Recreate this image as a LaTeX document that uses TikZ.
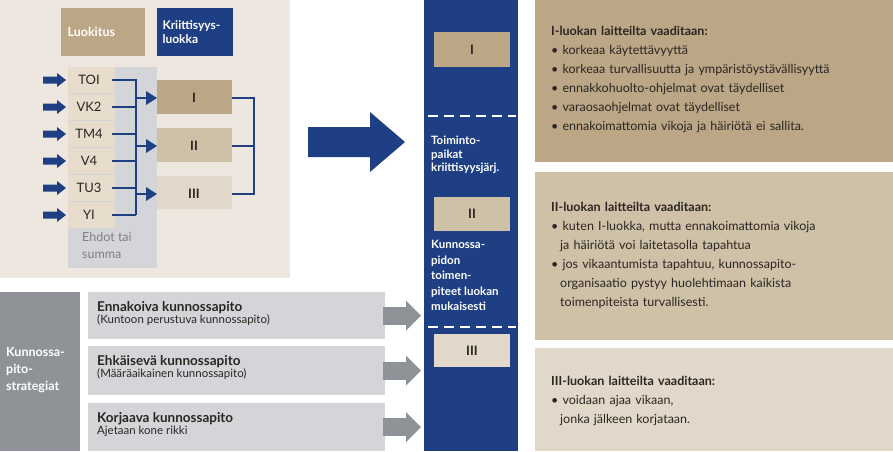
\documentclass[tikz,border=0pt]{standalone}
\usepackage{fontspec}
\setmainfont{Lato}
\usetikzlibrary{calc}
\definecolor{tan1}{HTML}{BBA686}
\definecolor{tan2}{HTML}{CFC0A8}
\definecolor{tan3}{HTML}{E2D8C9}
\definecolor{bgbeige}{HTML}{EDE7E0}
\definecolor{navy}{HTML}{1F3F85}
\definecolor{lgray}{HTML}{D3D5D8}
\definecolor{mgray}{HTML}{8F9398}
\definecolor{itemtan}{HTML}{E8DDCD}
\definecolor{txt}{HTML}{2B2622}
\tikzset{
  head/.style={font=\bfseries\fontsize{12.5}{15}\selectfont,text=white,align=left},
  item/.style={font=\fontsize{13}{15}\selectfont,text=txt},
  cls/.style={font=\bfseries\fontsize{13}{15}\selectfont,text=txt},
  flow/.style={draw=navy,line width=2.6pt},
  panel/.style={font=\fontsize{12.5}{19}\selectfont,text=txt,align=left,anchor=north west,text width=350pt,inner sep=0pt}
}
\begin{document}
\begin{tikzpicture}[x=1pt,y=-1pt]
\useasboundingbox (0,0) rectangle (893,451);
% Classification panel
\fill[bgbeige] (0,0) rectangle (290,278);
\fill[tan1] (61,8) rectangle (145,56);
\node[head,anchor=west] (luok) at (64,32) {Luokitus};
\fill[navy] (157,8) rectangle (233,56);
\node[head,anchor=west,font=\bfseries\fontsize{12}{13.5}\selectfont] (krit) at (159,32) {Kriittisyys-\\luokka};
\fill[lgray] (68,67) rectangle (157,268);
\node[item,text=gray,align=left,anchor=north west,font=\fontsize{12.5}{17}\selectfont,inner sep=0pt] (ehdot) at (82,232) {Ehdot tai\\summa};
\foreach \name/\lab [count=\i] in {toi/TOI,vk/VK2,tm/TM4,v/V4,tu/TU3,yi/YI}{
  \fill[itemtan] (68,{67+27*(\i-1)}) rectangle (115,{67+27*\i-1});
  \node[item] (\name) at (89,{80+27*(\i-1)}) {\lab};
  \coordinate (in\name) at (43,{80+27*(\i-1)});
  \fill[navy] ($(in\name)+(0,-3.5)$) -- ++(14,0) -- ++(0,-3.5) -- ++(9,7) -- ++(-9,7) -- ++(0,-3.5) -- ++(-14,0) -- cycle;
  \draw[flow] (112,{80+27*(\i-1)}) -- (136,{80+27*(\i-1)});
}
\draw[flow] (136,78.7) -- (136,215.3);
% Criticality classes
\fill[tan1] (157,80) rectangle (232,114);
\fill[tan2] (157,128) rectangle (232,162);
\fill[tan3] (157,176) rectangle (232,209);
\node[cls] (c1) at (194,98) {I};
\node[cls] (c2) at (194,146) {II};
\node[cls] (c3) at (194,194) {III};
\foreach \y in {98,146,194}{
  \draw[flow] (136,\y) -- (148,\y);
  \fill[navy] (146,\y-7) -- (157,\y) -- (146,\y+7) -- cycle;
  \draw[flow] (232,\y) -- (254,\y);
}
\draw[flow] (254,96.7) -- (254,195.3);
% Big arrow
\fill[navy] (308,127) -- (370,127) -- (370,112) -- (405,142) -- (370,172) -- (370,157) -- (308,157) -- cycle;
% Blue column
\fill[navy] (424,0) rectangle (518,451);
\fill[tan1] (434,32) rectangle (510,67);
\node[cls] (k1) at (472,49.5) {I};
\draw[white,line width=2.5pt,dash pattern=on 10pt off 6pt] (428,116) -- (516,116);
\node[head,anchor=north west,font=\bfseries\fontsize{11.5}{13.5}\selectfont,inner sep=0pt] (toim) at (431,136) {Toiminto-\\paikat\\kriittisyysjärj.};
\fill[tan2] (434,197) rectangle (510,231);
\node[cls] (k2) at (472,214) {II};
\node[head,anchor=north west,font=\bfseries\fontsize{11.5}{15.5}\selectfont,inner sep=0pt] (kunn) at (431,240) {Kunnossa-\\pidon\\toimen-\\piteet luokan\\mukaisesti};
\draw[white,line width=2.5pt,dash pattern=on 10pt off 6pt] (428,327) -- (516,327);
\fill[tan3] (434,334) rectangle (510,367);
\node[cls] (k3) at (472,351) {III};
% Requirement panels
\fill[tan1] (535,0) rectangle (893,162);
\fill[tan2] (535,172) rectangle (893,340);
\fill[tan3] (535,348) rectangle (893,451);
\node[panel] (p1) at (551,26) {\textbf{I-luokan laitteilta vaaditaan:}\\
• korkeaa käytettävyyttä\\
• korkeaa turvallisuutta ja ympäristöystävällisyyttä\\
• ennakkohuolto-ohjelmat ovat täydelliset\\
• varaosaohjelmat ovat täydelliset\\
• ennakoimattomia vikoja ja häiriötä ei sallita.};
\node[panel] (p2) at (551,202) {\textbf{II-luokan laitteilta vaaditaan:}\\
• kuten I-luokka, mutta ennakoimattomia vikoja\\
\hspace*{9pt}ja häiriötä voi laitetasolla tapahtua\\
• jos vikaantumista tapahtuu, kunnossapito-\\
\hspace*{9pt}organisaatio pystyy huolehtimaan kaikista\\
\hspace*{9pt}toimenpiteista turvallisesti.};
\node[panel] (p3) at (551,376) {\textbf{III-luokan laitteilta vaaditaan:}\\
• voidaan ajaa vikaan,\\
\hspace*{9pt}jonka jälkeen korjataan.};
% Strategies
\fill[mgray] (0,292) rectangle (80,451);
\node[head,anchor=west,font=\bfseries\fontsize{12.5}{17}\selectfont,inner sep=0pt] (strat) at (6,370) {Kunnossa-\\pito-\\strategiat};
\foreach \name/\ya/\yb/\ta/\tb in {enn/292/339/Ennakoiva kunnossapito/(Kuntoon perustuva kunnossapito),
  ehk/346/395/Ehkäisevä kunnossapito/(Määräaikainen kunnossapito),
  kor/403/451/Korjaava kunnossapito/Ajetaan kone rikki}{
  \fill[lgray] (88,\ya) rectangle (385,\yb);
  \node[anchor=north west,align=left,text=txt,inner sep=0pt] (\name) at (97,\ya+9) {{\fontsize{13.5}{15}\selectfont\bfseries \ta}\\[0pt]{\fontsize{11.5}{13}\selectfont \tb}};
  \fill[mgray] (383,{(\ya+\yb)/2-9}) rectangle (408,{(\ya+\yb)/2+9});
  \fill[mgray] (406,{(\ya+\yb)/2-15}) -- (421,{(\ya+\yb)/2}) -- (406,{(\ya+\yb)/2+15}) -- cycle;
}
\end{tikzpicture}
\end{document}
